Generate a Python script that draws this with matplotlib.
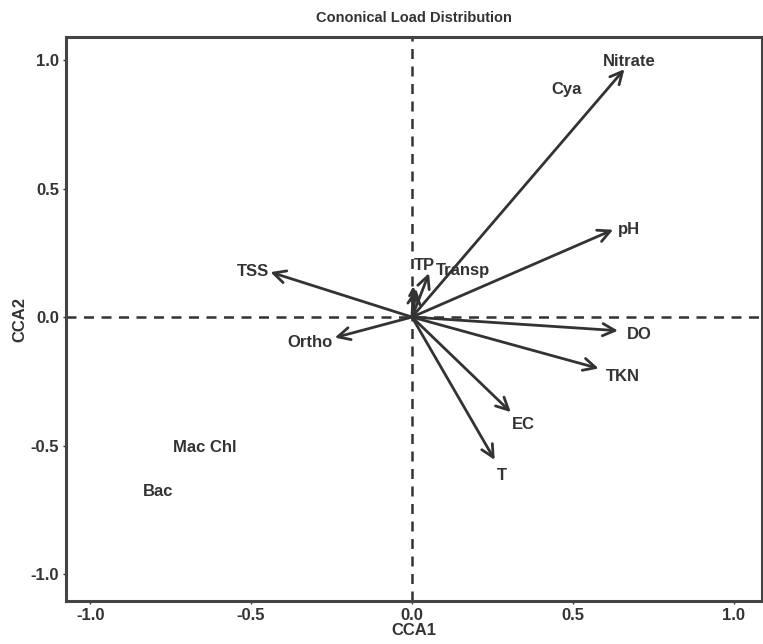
import matplotlib
matplotlib.use('Agg')
import matplotlib.pyplot as plt

plt.rcParams['font.family'] = ['Liberation Sans', 'DejaVu Sans']
plt.rcParams['font.weight'] = 'bold'

# arrow tips (CCA1, CCA2)
arrow_names = ['Nitrate', 'pH', 'DO', 'TKN', 'EC', 'T', 'TSS', 'Ortho', 'TP', 'Transp', 's1', 's2']
arrow_x = [0.66, 0.625, 0.64, 0.58, 0.307, 0.257, -0.44, -0.24, 0.053, 0.013, 0.004, 0.012]
arrow_y = [0.965, 0.34, -0.053, -0.2, -0.37, -0.556, 0.175, -0.08, 0.171, 0.11, 0.12, 0.1]

# label positions
label_names = ['Nitrate', 'Cya', 'pH', 'DO', 'TKN', 'EC', 'T', 'TSS', 'Ortho', 'TP', 'Transp', 'Mac Chl', 'Bac']
label_x = [0.675, 0.48, 0.675, 0.706, 0.656, 0.347, 0.279, -0.495, -0.316, 0.04, 0.158, -0.645, -0.79]
label_y = [0.996, 0.887, 0.342, -0.066, -0.233, -0.42, -0.615, 0.179, -0.097, 0.2, 0.183, -0.506, -0.68]

ticks = [-1.0, -0.5, 0.0, 0.5, 1.0]

col = '#333333'

fig = plt.figure(figsize=(7.63, 6.44), dpi=100)
ax = fig.add_axes([0.0865, 0.0668, 0.912, 0.8757])

ax.axhline(0, color=col, ls=(0, (4, 3)), lw=1.8, zorder=1)
ax.axvline(0, color=col, ls=(0, (4, 3)), lw=1.8, zorder=1)

for name, x, y in zip(arrow_names, arrow_x, arrow_y):
    ms = 12 if name.startswith('s') else 22
    ax.annotate('', xy=(x, y), xytext=(0, 0),
                arrowprops=dict(arrowstyle='->', color=col, lw=2.0,
                                mutation_scale=ms, shrinkA=0, shrinkB=0))

for name, x, y in zip(label_names, label_x, label_y):
    ax.text(x, y, name, ha='center', va='center', fontsize=12,
            fontweight='bold', color=col)

ax.set_xlim(-1.075, 1.087)
ax.set_ylim(-1.105, 1.09)
ax.set_xticks(ticks)
ax.set_yticks(ticks)
ax.set_xticklabels([f'{t:.1f}' for t in ticks])
ax.set_yticklabels([f'{t:.1f}' for t in ticks])
ax.tick_params(labelsize=12, colors=col, length=2, width=1, pad=3)
for lab in ax.get_xticklabels() + ax.get_yticklabels():
    lab.set_fontweight('bold')

for s in ax.spines.values():
    s.set_color('#444444')
    s.set_linewidth(2.2)

ax.set_xlabel('CCA1', fontsize=12, fontweight='bold', color=col, labelpad=0)
ax.set_ylabel('CCA2', fontsize=12, fontweight='bold', color=col, labelpad=2)
ax.set_title('Cononical Load Distribution', fontsize=10.5, fontweight='bold',
             color=col, pad=11)

fig.savefig('out.png', dpi=100)
